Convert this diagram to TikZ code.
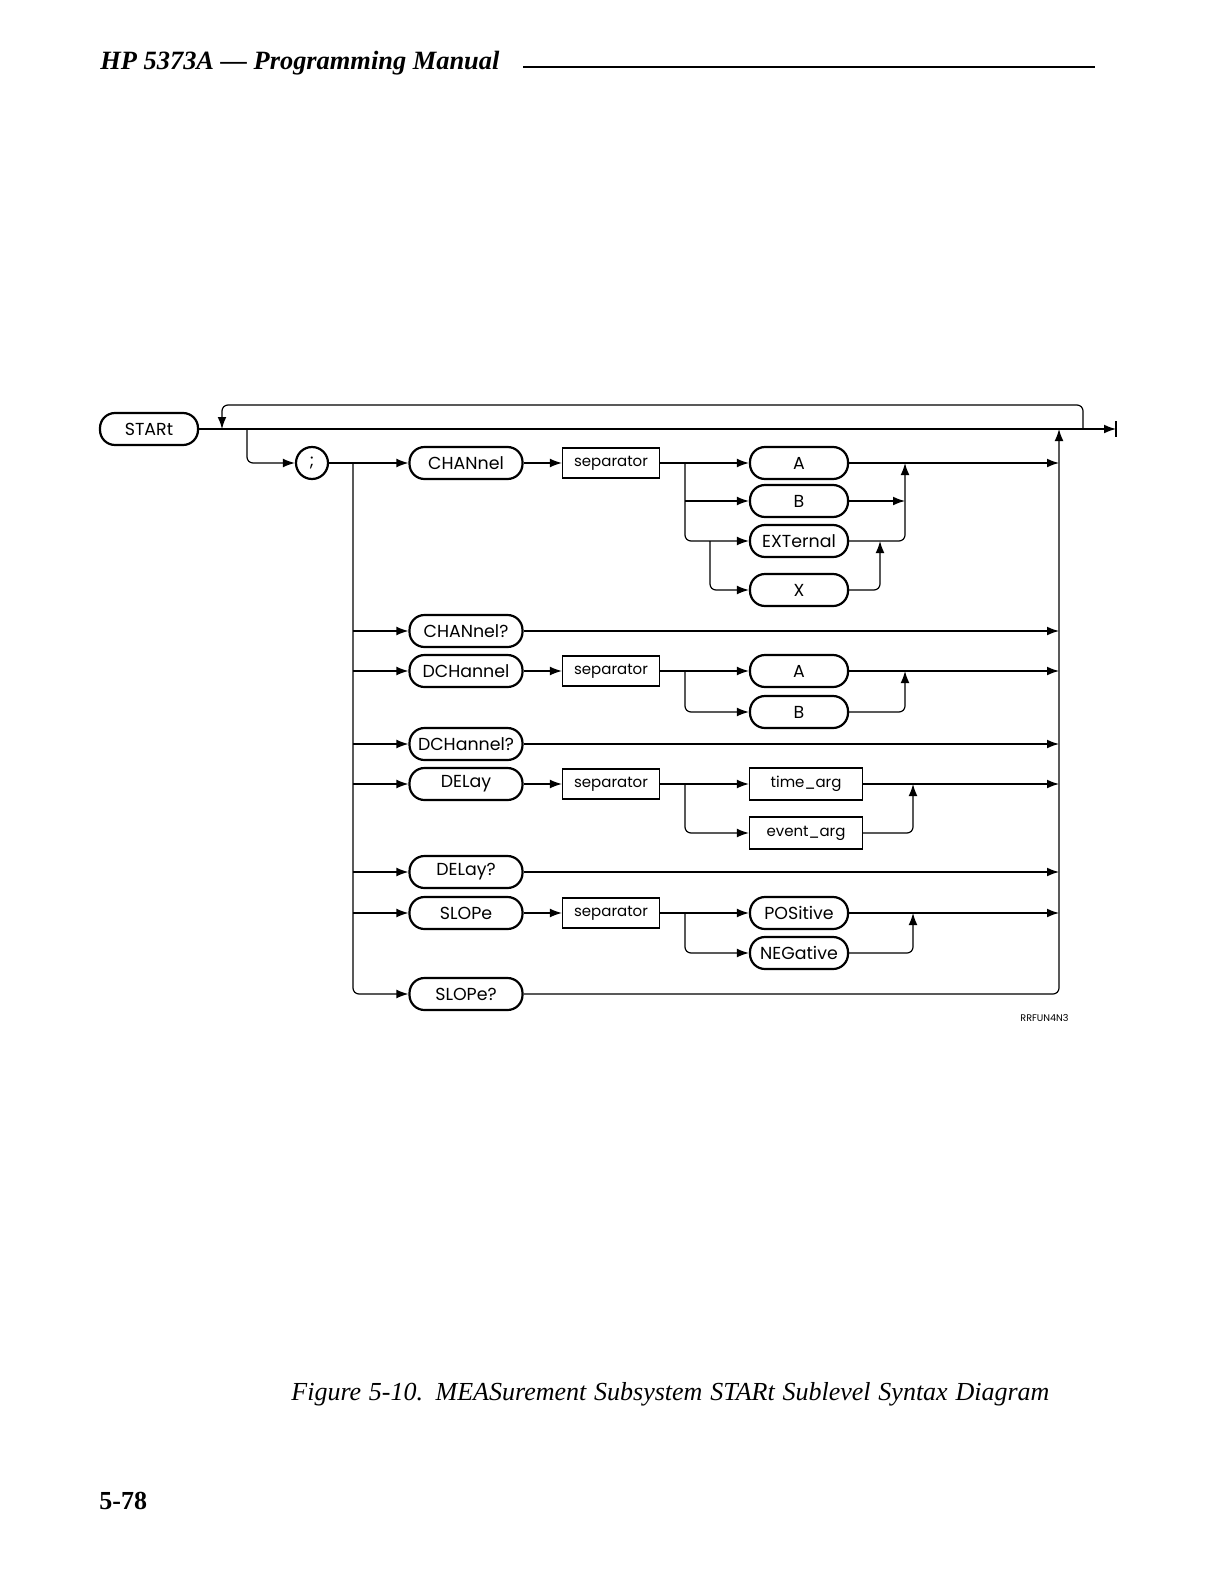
\documentclass[tikz,border=0pt]{standalone}
\usepackage{fontspec}
\usepackage{tikz}
\usetikzlibrary{arrows.meta}
\usetikzlibrary{positioning}

\newfontfamily\hpfont{Poppins}
\newfontfamily\palfont[Ligatures=TeX]{Liberation Serif}

\tikzset{
  kw/.style={draw, line width=1.1pt, rounded corners=7.5pt, minimum width=56.5pt,
    minimum height=16pt, inner sep=0pt, font=\hpfont\fontsize{8.7}{10}\selectfont},
  opt/.style={kw, minimum width=49pt},
  sepbox/.style={draw, line width=0.6pt, minimum width=48.5pt, minimum height=15pt,
    inner sep=0pt, font=\hpfont\fontsize{7.5}{9}\selectfont},
  argbox/.style={sepbox, minimum width=56.5pt, minimum height=16pt},
  rail/.style={line width=0.6pt, rounded corners=3pt},
  railto/.style={rail, -{Latex[length=6pt,width=4.4pt]}},
}

\begin{document}
\begin{tikzpicture}[x=0.5pt,y=-0.5pt]
        \fill[white] (0,0) rectangle (1224,1584);
        \useasboundingbox (0,0) rectangle (1224,1584);

        % page header, caption and page number
        \node[anchor=base west, inner sep=0pt, font=\palfont\bfseries\itshape\fontsize{13.2}{15}\selectfont]
             (title) at (100,70) {HP 5373A --- Programming Manual};
        \draw[line width=1pt] (523,67) -- (1095,67);
        \node[anchor=base west, inner sep=0pt, font=\palfont\itshape\fontsize{13}{16}\selectfont]
             (caption) at (291,1400) {\makebox[379pt][s]{Figure 5-10. MEASurement Subsystem STARt Sublevel Syntax Diagram}};
        \node[anchor=base west, inner sep=0pt, font=\palfont\bfseries\fontsize{13}{15}\selectfont]
             (page) at (99,1509) {5-78};
        \node[anchor=base west, inner sep=0pt, font=\hpfont\fontsize{4.8}{5}\selectfont]
             (figid) at (1020,1021) {RRFUN4N3};

        % keywords
        \node[kw, minimum width=49pt] (start) at (149,429) {STARt};
        \node[draw, circle, line width=1.1pt, minimum size=16pt, inner sep=0pt,
              font=\hpfont\fontsize{8.7}{10}\selectfont] (semi) at (312,463) {;};
        \node[kw] (chan)  at (466,463) {CHANnel};
        \node[kw] (chanQ) at (466,631) {CHANnel?};
        \node[kw] (dch)   at (466,671) {DCHannel};
        \node[kw] (dchQ)  at (466,744) {DCHannel?};
        \node[kw] (del)   at (466,784) {DELay};
        \node[kw] (delQ)  at (466,872) {DELay?};
        \node[kw] (slope) at (466,913) {SLOPe};
        \node[kw] (slopeQ) at (466,994) {SLOPe?};

        % separators
        \node[sepbox] (chan-sep)  at (611,463) {separator};
        \node[sepbox] (dch-sep)   at (611,671) {separator};
        \node[sepbox] (del-sep)   at (611,784) {separator};
        \node[sepbox] (slope-sep) at (611,913) {separator};

        % parameters
        \node[opt] (chan-a)   at (799,463) {A};
        \node[opt] (chan-b)   at (799,501) {B};
        \node[opt] (chan-ext) at (799,541) {EXTernal};
        \node[opt] (chan-x)   at (799,590) {X};
        \node[opt] (dch-a)    at (799,671) {A};
        \node[opt] (dch-b)    at (799,712) {B};
        \node[argbox] (del-time)  at (806,784) {time\_arg};
        \node[argbox] (del-event) at (806,833) {event\_arg};
        \node[opt] (slope-pos) at (799,913) {POSitive};
        \node[opt] (slope-neg) at (799,953) {NEGative};

        \coordinate (fork)  at (247,429);
        \coordinate (loopL) at (222,429);
        \coordinate (loopR) at (1083,429);
        \coordinate (right) at (1059,429);
        \coordinate (end)   at (1116,429);
        \coordinate (trunk) at (353,463);

        % main line, repeat loop and end
        \draw[railto] (start.east) -- (end);
        \draw[line width=0.8pt] (end) ++(0,-8) -- ++(0,16);
        \draw[railto] (loopR) -- ++(0,-24) -| (loopL);
        \draw[railto] (fork) |- (semi.west);
        \draw[railto] (semi.east) -- (chan.west);
        \draw[railto] (trunk) |- (slopeQ.west);
        \foreach \k in {chanQ,dch,dchQ,del,delQ,slope}
            \draw[railto] (trunk |- \k.west) -- (\k.west);
        \foreach \k in {chan,dch,del,slope}
            \draw[railto] (\k.east) -- (\k-sep.west);
        \draw[railto] (slopeQ.east) -| (right);
        \foreach \k in {chan-a,chanQ,dch-a,dchQ,del-time,delQ,slope-pos}
            \draw[railto] (\k.east) -- (\k.east -| right);

        % CHANnel choices
        \coordinate (chan-split)  at (685,463);
        \coordinate (chan-split2) at (710,541);
        \coordinate (chan-join)   at (905,463);
        \coordinate (chan-join2)  at (880,541);
        \draw[railto] (chan-sep.east) -- (chan-a.west);
        \draw[railto] (chan-split) |- (chan-ext.west);
        \draw[railto] (chan-split |- chan-b.west) -- (chan-b.west);
        \draw[railto] (chan-split2) |- (chan-x.west);
        \draw[railto] (chan-b.east) -- (chan-b.east -| chan-join);
        \draw[railto] (chan-ext.east) -| (chan-join);
        \draw[railto] (chan-x.east) -| (chan-join2);

        % two way choices
        \foreach \g/\u/\l/\j in {dch/dch-a/dch-b/905,del/del-time/del-event/913,slope/slope-pos/slope-neg/913} {
            \coordinate (\g-split) at (685,0 |- \u.west);
            \draw[railto] (\g-sep.east) -- (\u.west);
            \draw[railto] (\g-split |- \g-sep.east) |- (\l.west);
            \draw[railto] (\l.east) -| (\j,0 |- \u.east);
        }
\end{tikzpicture}
\end{document}
